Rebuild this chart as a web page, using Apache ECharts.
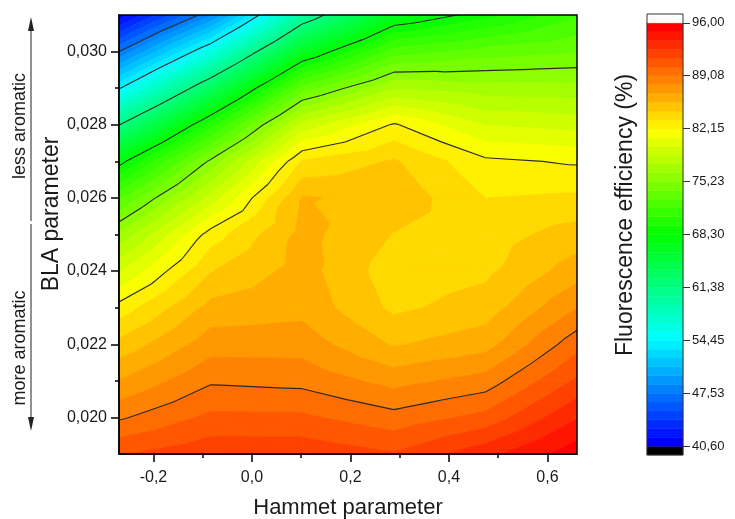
<!DOCTYPE html>
<html>
<head>
<meta charset="utf-8">
<script src="https://cdn.jsdelivr.net/npm/echarts@6/dist/echarts.min.js"></script>
<style>
  html, body { margin: 0; padding: 0; background: #ffffff; }
  #chart { width: 735px; height: 519px; }
</style>
</head>
<body>
<div id="chart"></div>
<script>
// Grid nodes: Hammett parameter (x) and BLA parameter (y)
const hammett = [-0.27, -0.084, 0.102, 0.288, 0.474, 0.66];
const bla = [0.019, 0.020, 0.021, 0.022, 0.023, 0.024, 0.025, 0.026, 0.027, 0.028, 0.029, 0.030, 0.031];

// Fluorescence efficiency (%) along the BLA nodes, one list per Hammett value
const effHm027 = [91.3, 88.9, 86.8, 84.8, 82.6, 79.7, 76.6, 72.6, 67.7, 61.3, 54.3, 47.5, 41.0];
const effHm008 = [92.2, 90.5, 88.9, 87.4, 86.0, 84.4, 82.7, 79.2, 75.5, 70.0, 63.4, 56.1, 48.5];
const effH010  = [92.2, 90.45, 88.7, 87.4, 86.4, 86.1, 86.0, 85.7, 83.4, 79.1, 73.3, 66.5, 59.7];
const effH029  = [91.5, 89.5, 87.5, 85.5, 84.2, 83.8, 84.4, 85.3, 84.6, 82.3, 77.5, 72.3, 66.7];
const effH047  = [93.3, 90.6, 88.4, 86.3, 85.0, 84.2, 83.9, 83.3, 82.4, 79.8, 76.9, 73.4, 69.0];
const effH066  = [95.6, 93.6, 91.6, 89.8, 87.9, 86.2, 85.0, 83.5, 82.0, 79.4, 76.8, 74.0, 71.5];
const efficiency = [effHm027, effHm008, effH010, effH029, effH047, effH066];

// Axis ticks and labels
const xTicks = [-0.2, 0.0, 0.2, 0.4, 0.6];
const xMinorTicks = [-0.1, 0.1, 0.3, 0.5];
const yTicks = [0.020, 0.022, 0.024, 0.026, 0.028, 0.030];
const yMinorTicks = [0.021, 0.023, 0.025, 0.027, 0.029];

// Colour scale: major levels (with contour lines) and their labels
const scaleTicks = [40.6, 47.525, 54.45, 61.375, 68.3, 75.225, 82.15, 89.075, 96.0];
const scaleLabels = ['40,60', '47,53', '54,45', '61,38', '68,30', '75,23', '82,15', '89,08', '96,00'];
const contourLevels = [47.525, 54.45, 61.375, 68.3, 75.225, 82.15, 89.075];
const bandsPerMajor = 6;

const FONT = '"Liberation Sans", Arial, Helvetica, sans-serif';
const scaleMin = scaleTicks[0];
const scaleMax = scaleTicks[scaleTicks.length - 1];
const bandCount = (scaleTicks.length - 1) * bandsPerMajor;
const bandStep = (scaleMax - scaleMin) / bandCount;

function rainbow(t) {
  t = Math.max(0, Math.min(1, t));
  let r, g, b;
  if (t < 0.25) { r = 0; g = 255 * t / 0.25; b = 255; }
  else if (t < 0.5) { r = 0; g = 255; b = 255 * (1 - (t - 0.25) / 0.25); }
  else if (t < 0.75) { r = 255 * (t - 0.5) / 0.25; g = 255; b = 0; }
  else { r = 255; g = 255 * (1 - (t - 0.75) / 0.25); b = 0; }
  return 'rgb(' + Math.round(r) + ',' + Math.round(g) + ',' + Math.round(b) + ')';
}
function bandColor(k) {
  if (k < 0) return '#000000';
  if (k >= bandCount) return '#ffffff';
  return rainbow(k / (bandCount - 1));
}
function bandOf(v) {
  return Math.max(0, Math.min(bandCount - 1, Math.floor((v - scaleMin) / bandStep)));
}

// Sutherland-Hodgman clip of a polygon (points carry [x, y, value]) against a value level
function clipByLevel(pts, level, keepAbove) {
  const out = [];
  for (let n = 0; n < pts.length; n++) {
    const p = pts[n], q = pts[(n + 1) % pts.length];
    const pin = keepAbove ? p[2] >= level : p[2] <= level;
    const qin = keepAbove ? q[2] >= level : q[2] <= level;
    if (pin) out.push(p);
    if (pin !== qin) {
      const t = (level - p[2]) / (q[2] - p[2]);
      out.push([p[0] + t * (q[0] - p[0]), p[1] + t * (q[1] - p[1]), level]);
    }
  }
  return out;
}

// Each grid cell is split into four triangles around its centre
function cellTriangles(i, j) {
  const x0 = hammett[i], x1 = hammett[i + 1], y0 = bla[j], y1 = bla[j + 1];
  const a = [x0, y0, efficiency[i][j]];
  const b = [x1, y0, efficiency[i + 1][j]];
  const c = [x1, y1, efficiency[i + 1][j + 1]];
  const d = [x0, y1, efficiency[i][j + 1]];
  const m = [(x0 + x1) / 2, (y0 + y1) / 2, (a[2] + b[2] + c[2] + d[2]) / 4];
  return [[a, b, m], [b, c, m], [c, d, m], [d, a, m]];
}

const cells = [];
for (let i = 0; i < hammett.length - 1; i++) {
  for (let j = 0; j < bla.length - 1; j++) {
    cells.push([(hammett[i] + hammett[i + 1]) / 2, (bla[j] + bla[j + 1]) / 2, i, j]);
  }
}

function renderBands(params, api) {
  const tris = cellTriangles(api.value(2), api.value(3));
  const children = [];
  tris.forEach(function (tri) {
    const vs = tri.map(function (p) { return p[2]; });
    const k0 = bandOf(Math.min.apply(null, vs));
    const k1 = bandOf(Math.max.apply(null, vs));
    for (let k = k0; k <= k1; k++) {
      const lo = scaleMin + k * bandStep, hi = lo + bandStep;
      let poly = tri;
      if (k > 0) poly = clipByLevel(poly, lo, true);
      if (poly.length >= 3 && k < bandCount - 1) poly = clipByLevel(poly, hi, false);
      if (poly.length < 3) continue;
      const col = bandColor(k);
      children.push({
        type: 'polygon',
        shape: { points: poly.map(function (p) { return api.coord([p[0], p[1]]); }) },
        style: { fill: col, stroke: col, lineWidth: 0.8 }
      });
    }
  });
  return { type: 'group', children: children };
}

function renderContours(params, api) {
  const tris = cellTriangles(api.value(2), api.value(3));
  const children = [];
  tris.forEach(function (tri) {
    contourLevels.forEach(function (L) {
      const pts = [];
      for (let n = 0; n < 3; n++) {
        const p = tri[n], q = tri[(n + 1) % 3];
        if ((p[2] - L) * (q[2] - L) < 0) {
          const t = (L - p[2]) / (q[2] - p[2]);
          pts.push(api.coord([p[0] + t * (q[0] - p[0]), p[1] + t * (q[1] - p[1])]));
        }
      }
      if (pts.length === 2) {
        children.push({
          type: 'line',
          shape: { x1: pts[0][0], y1: pts[0][1], x2: pts[1][0], y2: pts[1][1] },
          style: { stroke: '#2a2a2a', lineWidth: 1.1 }
        });
      }
    });
  });
  return { type: 'group', children: children };
}

// Colour-scale blocks: one per band, plus below-range (black) and above-range (white)
const scaleBlocks = [];
for (let k = -1; k <= bandCount; k++) scaleBlocks.push([0.5, scaleMin + (k + 0.5) * bandStep, k]);

function renderScale(params, api) {
  const k = api.value(2);
  const lo = scaleMin + k * bandStep, hi = lo + bandStep;
  const p0 = api.coord([0, hi]);
  const p1 = api.coord([1, lo]);
  const col = bandColor(k);
  return {
    type: 'rect',
    shape: { x: p0[0], y: p0[1], width: p1[0] - p0[0], height: p1[1] - p0[1] },
    style: { fill: col, stroke: col, lineWidth: 0.5 }
  };
}

const commaFixed = function (digits) {
  return function (v) { return v.toFixed(digits).replace('.', ','); };
};

const chart = echarts.init(document.getElementById('chart'), null, { renderer: 'canvas' });
chart.setOption({
  animation: false,
  backgroundColor: '#ffffff',
  grid: [
    { left: 119, top: 15, width: 458, height: 439, show: true, z: 10, outerBoundsMode: 'none', containLabel: false,
      backgroundColor: 'transparent', borderColor: '#000', borderWidth: 1.5 },
    { left: 647, top: 14, width: 36, height: 441, show: true, z: 10, outerBoundsMode: 'none', containLabel: false,
      backgroundColor: 'transparent', borderColor: '#333', borderWidth: 1 }
  ],
  xAxis: [
    {
      type: 'value', gridIndex: 0, min: hammett[0], max: hammett[hammett.length - 1],
      position: 'bottom', z: 10,
      axisLine: { show: true, onZero: false, lineStyle: { color: '#000', width: 1.5 } },
      axisTick: { show: true, customValues: xTicks, length: 8, lineStyle: { color: '#000', width: 1.5 } },
      axisLabel: { show: true, customValues: xTicks, formatter: commaFixed(1), margin: 16,
        fontSize: 16, fontFamily: FONT, color: '#1a1a1a' },
      splitLine: { show: false }
    },
    {
      type: 'value', gridIndex: 0, min: hammett[0], max: hammett[hammett.length - 1],
      position: 'bottom', z: 10,
      axisLine: { show: false, onZero: false },
      axisTick: { show: true, customValues: xMinorTicks, length: 4, lineStyle: { color: '#000', width: 1.5 } },
      axisLabel: { show: false },
      splitLine: { show: false }
    },
    {
      type: 'value', gridIndex: 1, min: 0, max: 1, show: false
    }
  ],
  yAxis: [
    {
      type: 'value', gridIndex: 0, min: bla[0], max: bla[bla.length - 1],
      position: 'left', z: 10,
      axisLine: { show: true, onZero: false, lineStyle: { color: '#000', width: 1.5 } },
      axisTick: { show: true, customValues: yTicks, length: 8, lineStyle: { color: '#000', width: 1.5 } },
      axisLabel: { show: true, customValues: yTicks, formatter: commaFixed(3), margin: 12,
        fontSize: 16, fontFamily: FONT, color: '#1a1a1a' },
      splitLine: { show: false }
    },
    {
      type: 'value', gridIndex: 0, min: bla[0], max: bla[bla.length - 1],
      position: 'left', z: 10,
      axisLine: { show: false, onZero: false },
      axisTick: { show: true, customValues: yMinorTicks, length: 4, lineStyle: { color: '#000', width: 1.5 } },
      axisLabel: { show: false },
      splitLine: { show: false }
    },
    {
      type: 'value', gridIndex: 1, position: 'right', z: 10,
      min: scaleMin - bandStep, max: scaleMax + bandStep,
      axisLine: { show: false, onZero: false },
      axisTick: { show: true, customValues: scaleTicks, length: 7, lineStyle: { color: '#333', width: 1 } },
      axisLabel: { show: true, customValues: scaleTicks, margin: 9, fontSize: 13, fontFamily: FONT, color: '#1a1a1a',
        formatter: function (v) {
          let best = 0;
          scaleTicks.forEach(function (t, n) { if (Math.abs(t - v) < Math.abs(scaleTicks[best] - v)) best = n; });
          return scaleLabels[best];
        } },
      splitLine: { show: false }
    }
  ],
  series: [
    {
      type: 'custom', name: 'bands', xAxisIndex: 0, yAxisIndex: 0, z: 2,
      renderItem: renderBands, data: cells, encode: { x: 0, y: 1 }, clip: true, silent: true
    },
    {
      type: 'custom', name: 'contours', xAxisIndex: 0, yAxisIndex: 0, z: 3,
      renderItem: renderContours, data: cells, encode: { x: 0, y: 1 }, clip: true, silent: true
    },
    {
      type: 'custom', name: 'scale', xAxisIndex: 2, yAxisIndex: 2, z: 2,
      renderItem: renderScale, data: scaleBlocks, encode: { x: 0, y: 1 }, silent: true
    }
  ],
  graphic: [
    { type: 'text', x: 348, y: 508,
      style: { text: 'Hammet parameter', fontSize: 22, fontFamily: FONT, fill: '#1a1a1a', align: 'center', verticalAlign: 'middle' } },
    { type: 'text', x: 52, y: 214, rotation: Math.PI / 2,
      style: { text: 'BLA parameter', fontSize: 23, fontFamily: FONT, fill: '#1a1a1a', align: 'center', verticalAlign: 'middle' } },
    { type: 'text', x: 20, y: 126, rotation: Math.PI / 2,
      style: { text: 'less aromatic', fontSize: 18, fontFamily: FONT, fill: '#1a1a1a', align: 'center', verticalAlign: 'middle' } },
    { type: 'text', x: 20, y: 348, rotation: Math.PI / 2,
      style: { text: 'more aromatic', fontSize: 18, fontFamily: FONT, fill: '#1a1a1a', align: 'center', verticalAlign: 'middle' } },
    { type: 'line', shape: { x1: 31, y1: 26, x2: 31, y2: 221 }, style: { stroke: '#222', lineWidth: 1 } },
    { type: 'polygon', shape: { points: [[31, 17], [28, 31], [34, 31]] }, style: { fill: '#222' } },
    { type: 'line', shape: { x1: 31, y1: 224, x2: 31, y2: 421 }, style: { stroke: '#222', lineWidth: 1 } },
    { type: 'polygon', shape: { points: [[31, 431], [28, 417], [34, 417]] }, style: { fill: '#222' } },
    { type: 'text', x: 626, y: 215, rotation: Math.PI / 2,
      style: { text: 'Fluorescence efficiency (%)', fontSize: 23, fontFamily: FONT, fill: '#1a1a1a', align: 'center', verticalAlign: 'middle' } }
  ]
});
</script>
</body>
</html>
